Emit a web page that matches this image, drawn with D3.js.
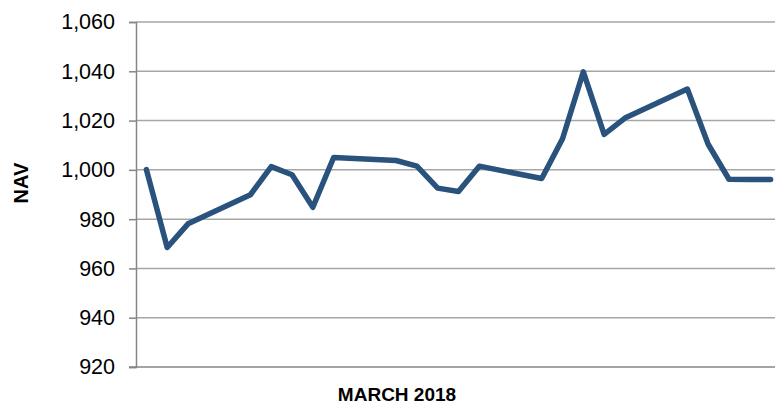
<!DOCTYPE html>
<html lang="en">
<head>
<meta charset="utf-8">
<title>NAV March 2018</title>
<script src="https://cdn.jsdelivr.net/npm/d3@7"></script>
<style>
  body { margin: 0; background: #fff; }
  svg text { font-family: "Liberation Sans", Arial, sans-serif; fill: #000; }
</style>
</head>
<body>
<svg></svg>
<script>
// trading days (Feb 28 - Mar 30, 2018) and NAV values
var dates = ["2018-02-28", "2018-03-01", "2018-03-02", "2018-03-05", "2018-03-06",
  "2018-03-07", "2018-03-08", "2018-03-09", "2018-03-12", "2018-03-13",
  "2018-03-14", "2018-03-15", "2018-03-16", "2018-03-19", "2018-03-20",
  "2018-03-21", "2018-03-22", "2018-03-23", "2018-03-26", "2018-03-27",
  "2018-03-28", "2018-03-29", "2018-03-30"];
var nav = [1000.1, 968.5, 978.1, 989.9, 1001.3,
  998.0, 984.8, 1005.0, 1003.8, 1001.5,
  992.6, 991.2, 1001.5, 996.5, 1012.6,
  1039.8, 1014.4, 1021.0, 1032.8, 1010.4,
  996.2, 996.1, 996.1];
var yTicks = [920, 940, 960, 980, 1000, 1020, 1040, 1060];

var width = 775, height = 405;
var plotLeft = 136, plotTop = 22, plotBottom = 367, plotRight = 781;

var svg = d3.select("svg").attr("width", width).attr("height", height);

var parse = d3.utcParse("%Y-%m-%d");
var data = dates.map(function(d, i) { return { date: parse(d), value: nav[i] }; });

// date axis: each day gets a slot, point sits in the middle
var x = d3.scaleUtc()
  .domain([d3.utcHour.offset(data[0].date, -12), d3.utcHour.offset(data[data.length - 1].date, 12)])
  .range([plotLeft, plotRight]);
var y = d3.scaleLinear().domain([920, 1060]).range([plotBottom, plotTop]);

// gridlines
svg.append("g").selectAll("line")
  .data(yTicks.slice(1))
  .enter().append("line")
  .attr("x1", plotLeft).attr("x2", width)
  .attr("y1", function(d) { return y(d); })
  .attr("y2", function(d) { return y(d); })
  .attr("stroke", "#a6a6a6")
  .attr("stroke-width", 1.5);

// y axis
var yAxis = svg.append("g")
  .attr("transform", "translate(" + plotLeft + ",0)")
  .call(d3.axisLeft(y).tickValues(yTicks).tickFormat(d3.format(",")).tickSize(7).tickPadding(14));
yAxis.select(".domain").attr("stroke", "#868686").attr("stroke-width", 1.5);
yAxis.selectAll(".tick line").attr("stroke", "#868686").attr("stroke-width", 1.5);
yAxis.selectAll(".tick text").attr("font-size", 21.5).attr("font-family", "Liberation Sans, Arial, sans-serif");

// x axis baseline
svg.append("line")
  .attr("x1", plotLeft - 7).attr("x2", width)
  .attr("y1", plotBottom).attr("y2", plotBottom)
  .attr("stroke", "#868686").attr("stroke-width", 1.5);

// line
var line = d3.line()
  .x(function(d) { return x(d.date); })
  .y(function(d) { return y(d.value); });

svg.append("path")
  .datum(data)
  .attr("d", line)
  .attr("fill", "none")
  .attr("stroke", "#29527d")
  .attr("stroke-width", 5.5)
  .attr("stroke-linejoin", "round")
  .attr("stroke-linecap", "round");

// axis titles
svg.append("text")
  .attr("transform", "translate(28,183) rotate(-90)")
  .attr("text-anchor", "middle")
  .attr("font-size", 20)
  .attr("font-weight", "bold")
  .text("NAV");

svg.append("text")
  .attr("x", 397)
  .attr("y", 401)
  .attr("text-anchor", "middle")
  .attr("font-size", 19)
  .attr("font-weight", "bold")
  .text("MARCH 2018");
</script>
</body>
</html>
